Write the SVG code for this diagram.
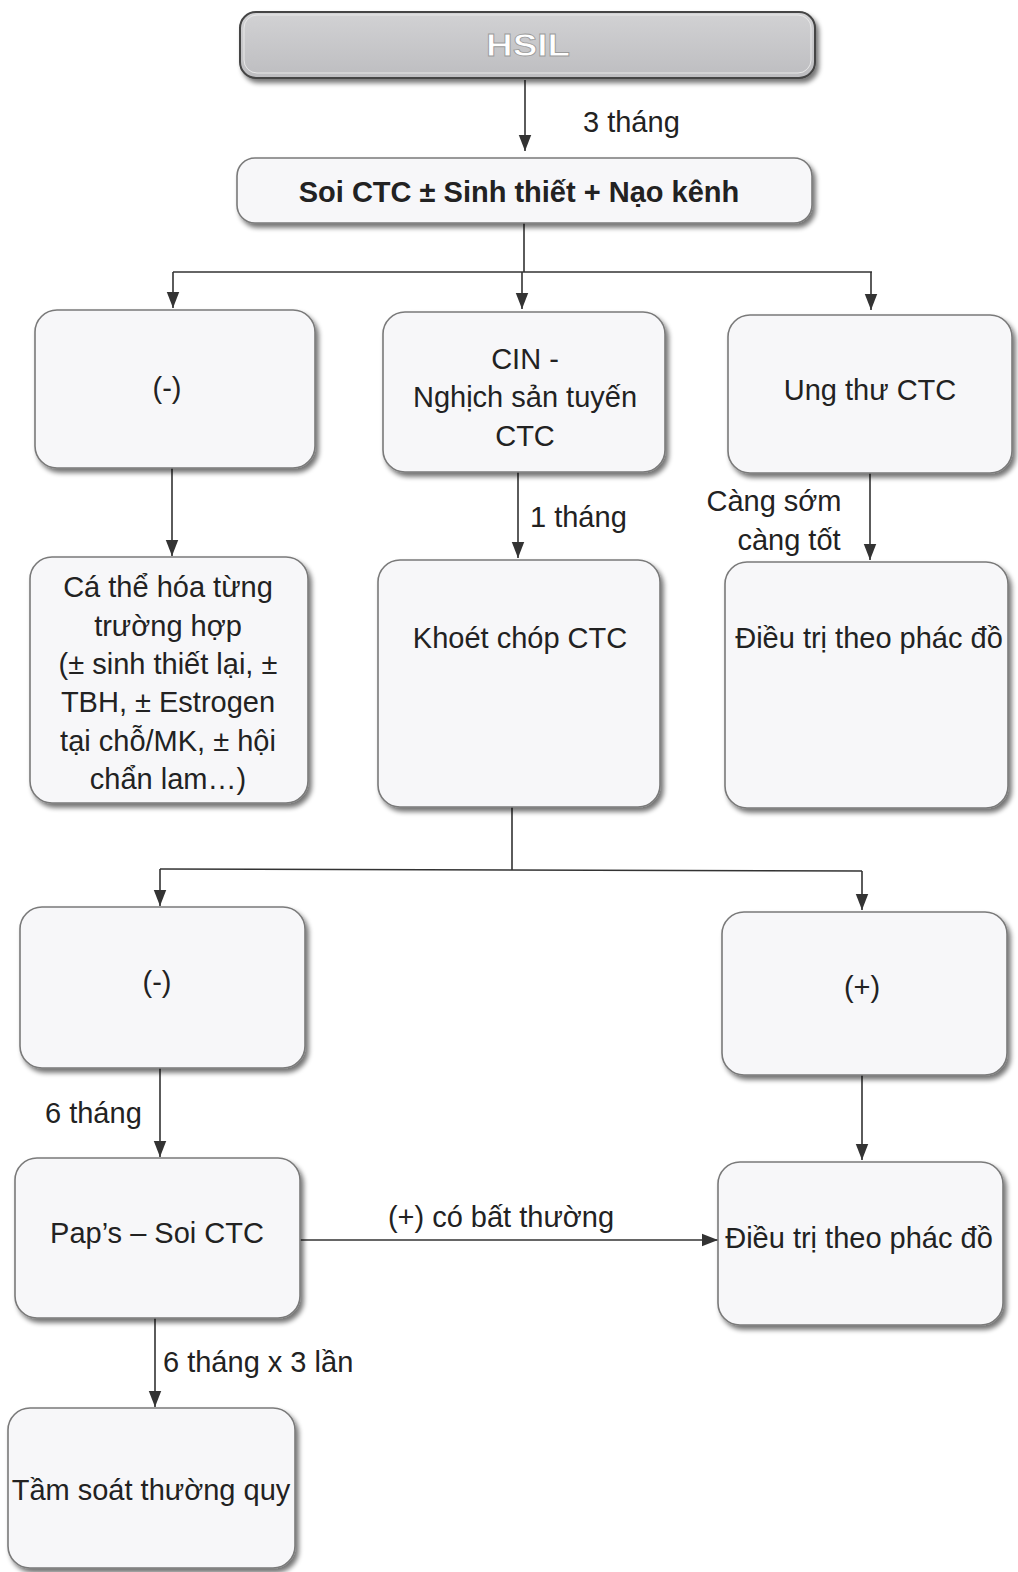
<svg xmlns="http://www.w3.org/2000/svg" width="1018" height="1572" viewBox="0 0 1018 1572">
<style>
.box{fill:#f7f7f9;stroke:#7a7a7a;stroke-width:1.6}
.t{font-family:"Liberation Sans",Arial,sans-serif;font-size:29px;fill:#222}
.c{text-anchor:middle}
.con{stroke:#333;stroke-width:1.6;fill:none}
.arr{marker-end:url(#ah)}
</style>
<defs>
<marker id="ah" markerUnits="userSpaceOnUse" markerWidth="16" markerHeight="18" viewBox="0 0 18 16" refX="18" refY="8" orient="auto">
<path d="M0,1 L18,8 L0,15 Z" fill="#333"/>
</marker>
<filter id="sh" x="-10%" y="-10%" width="125%" height="130%">
<feGaussianBlur in="SourceAlpha" stdDeviation="2.5"/>
<feOffset dx="3" dy="4" result="b"/>
<feComponentTransfer><feFuncA type="linear" slope="0.55"/></feComponentTransfer>
<feMerge><feMergeNode/><feMergeNode in="SourceGraphic"/></feMerge>
</filter>
<linearGradient id="gg" x1="0" y1="0" x2="0" y2="1">
<stop offset="0" stop-color="#d2d2d4"/>
<stop offset="1" stop-color="#bdbdc0"/>
</linearGradient>
</defs>
<rect width="1018" height="1572" fill="#ffffff"/>

<g id="connectors">
<line class="con arr" x1="525" y1="80" x2="525" y2="151"/>
<line class="con" x1="524" y1="223" x2="524" y2="272"/>
<line class="con" x1="173" y1="272" x2="872" y2="272"/>
<line class="con arr" x1="173" y1="272" x2="173" y2="308"/>
<line class="con arr" x1="522" y1="272" x2="522" y2="309"/>
<line class="con arr" x1="871" y1="272" x2="871" y2="310"/>
<line class="con arr" x1="172" y1="468" x2="172" y2="556"/>
<line class="con arr" x1="518" y1="472" x2="518" y2="558"/>
<line class="con arr" x1="870" y1="473" x2="870" y2="560"/>
<line class="con" x1="512" y1="807" x2="512" y2="870"/>
<line class="con" x1="160" y1="869" x2="862" y2="871"/>
<line class="con arr" x1="160" y1="869" x2="160" y2="906"/>
<line class="con arr" x1="862" y1="871" x2="862" y2="910"/>
<line class="con arr" x1="160" y1="1068" x2="160" y2="1157"/>
<line class="con arr" x1="862" y1="1075" x2="862" y2="1160"/>
<line class="con arr" x1="300" y1="1240" x2="718" y2="1240"/>
<line class="con arr" x1="155" y1="1318" x2="155" y2="1407"/>
<text class="t" x="583" y="132">3 tháng</text>
<text class="t" x="530" y="527">1 tháng</text>
<text class="t c" x="774" y="511">Càng sớm</text>
<text class="t c" x="789" y="550">càng tốt</text>
<text class="t" x="45" y="1123">6 tháng</text>
<text class="t c" x="501" y="1227">(+) có bất thường</text>
<text class="t" x="163" y="1372">6 tháng x 3 lần</text>
</g>

<g id="hsil">
<rect x="240" y="12" width="575" height="66" rx="16" fill="url(#gg)" stroke="#444" stroke-width="2" filter="url(#sh)"/>
<rect x="244" y="15" width="567" height="58" rx="13" fill="none" stroke="#e8e8e8" stroke-width="1"/>
<text x="528" y="56" text-anchor="middle" font-family="'Liberation Sans',Arial,sans-serif" font-weight="bold" font-size="31" fill="#ffffff" stroke="#9a9a9a" stroke-width="0.8" textLength="84" lengthAdjust="spacingAndGlyphs">HSIL</text>
</g>

<g id="soi">
<rect class="box" x="237" y="158" width="575" height="65" rx="18" filter="url(#sh)"/>
<text class="t c" x="519" y="202" font-weight="bold" font-size="26.5">Soi CTC ± Sinh thiết + Nạo kênh</text>
</g>

<g id="neg1">
<rect class="box" x="35" y="310" width="280" height="158" rx="22" filter="url(#sh)"/>
<text class="t c" x="167" y="398">(-)</text>
</g>

<g id="cin">
<rect class="box" x="383" y="312" width="282" height="160" rx="22" filter="url(#sh)"/>
<text class="t c" x="525" y="369">CIN -</text>
<text class="t c" x="525" y="407">Nghịch sản tuyến</text>
<text class="t c" x="525" y="446">CTC</text>
</g>

<g id="ungthu">
<rect class="box" x="728" y="315" width="284" height="158" rx="22" filter="url(#sh)"/>
<text class="t c" x="870" y="400">Ung thư CTC</text>
</g>

<g id="cathe">
<rect class="box" x="30" y="557" width="278" height="246" rx="22" filter="url(#sh)"/>
<text class="t c" x="168" y="597">Cá thể hóa từng</text>
<text class="t c" x="168" y="636">trường hợp</text>
<text class="t c" x="168" y="674">(± sinh thiết lại, ±</text>
<text class="t c" x="168" y="712">TBH, ± Estrogen</text>
<text class="t c" x="168" y="751">tại chỗ/MK, ± hội</text>
<text class="t c" x="168" y="789">chẩn lam…)</text>
</g>

<g id="khoet">
<rect class="box" x="378" y="560" width="282" height="247" rx="22" filter="url(#sh)"/>
<text class="t c" x="520" y="648">Khoét chóp CTC</text>
</g>

<g id="dieutri1">
<rect class="box" x="725" y="562" width="283" height="246" rx="22" filter="url(#sh)"/>
<text class="t c" x="869" y="648">Điều trị theo phác đồ</text>
</g>

<g id="neg2">
<rect class="box" x="20" y="907" width="285" height="161" rx="22" filter="url(#sh)"/>
<text class="t c" x="157" y="992">(-)</text>
</g>

<g id="pos">
<rect class="box" x="722" y="912" width="285" height="163" rx="22" filter="url(#sh)"/>
<text class="t c" x="862" y="997">(+)</text>
</g>

<g id="paps">
<rect class="box" x="15" y="1158" width="285" height="160" rx="22" filter="url(#sh)"/>
<text class="t c" x="157" y="1243">Pap’s – Soi CTC</text>
</g>

<g id="dieutri2">
<rect class="box" x="718" y="1162" width="285" height="163" rx="22" filter="url(#sh)"/>
<text class="t c" x="859" y="1248">Điều trị theo phác đồ</text>
</g>

<g id="tamsoat">
<rect class="box" x="8" y="1408" width="287" height="160" rx="22" filter="url(#sh)"/>
<text class="t c" x="151" y="1500">Tầm soát thường quy</text>
</g>
</svg>
